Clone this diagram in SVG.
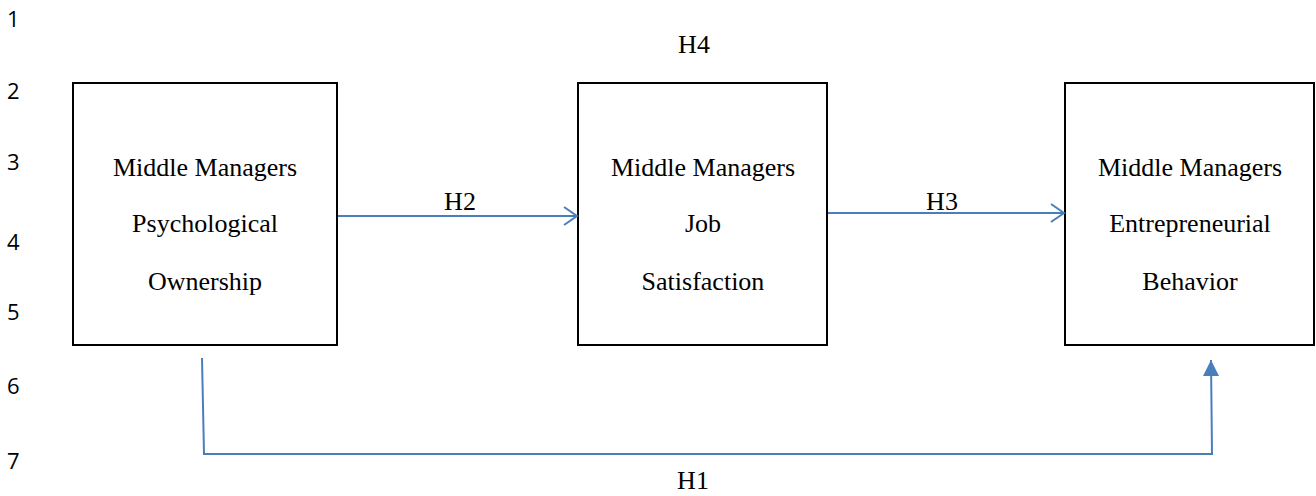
<svg xmlns="http://www.w3.org/2000/svg" width="1316" height="496" viewBox="0 0 1316 496">
<style>
.box{fill:#fff;stroke:#000;stroke-width:2}
.t{font-family:"Liberation Serif",serif;font-size:26px;fill:#000;text-anchor:middle}
.n{font-family:"Open Sans","Liberation Sans",sans-serif;font-size:22px;fill:#000}
.c{fill:none;stroke:#4a7ebb;stroke-width:2}
</style>
<defs>
<marker id="open" markerWidth="16" markerHeight="22" refX="14" refY="11" orient="auto" markerUnits="userSpaceOnUse">
<path d="M1,2 L14,11 L1,20" fill="none" stroke="#4a7ebb" stroke-width="2"/>
</marker>
<marker id="tri" markerWidth="16" markerHeight="18" refX="8" refY="0" orient="0" markerUnits="userSpaceOnUse">
<path d="M0,16 L8,0 L16,16 Z" fill="#4a7ebb"/>
</marker>
</defs>
<g id="linenumbers">
<text class="n" x="7" y="27">1</text>
<text class="n" x="7" y="99">2</text>
<text class="n" x="7" y="170">3</text>
<text class="n" x="7" y="250">4</text>
<text class="n" x="7" y="320">5</text>
<text class="n" x="7" y="394">6</text>
<text class="n" x="7" y="469">7</text>
</g>
<g id="node-pso">
<rect class="box" x="73" y="83" width="264" height="262"/>
<text class="t" x="205" y="176">Middle Managers</text>
<text class="t" x="205" y="232">Psychological</text>
<text class="t" x="205" y="290">Ownership</text>
</g>
<g id="node-js">
<rect class="box" x="578" y="83" width="249" height="262"/>
<text class="t" x="703" y="176">Middle Managers</text>
<text class="t" x="703" y="232">Job</text>
<text class="t" x="703" y="290">Satisfaction</text>
</g>
<g id="node-eb">
<rect class="box" x="1065" y="83" width="249" height="262"/>
<text class="t" x="1190" y="176">Middle Managers</text>
<text class="t" x="1190" y="232">Entrepreneurial</text>
<text class="t" x="1190" y="290">Behavior</text>
</g>
<g id="connectors">
<line class="c" x1="338" y1="216" x2="577" y2="216" marker-end="url(#open)"/>
<line class="c" x1="828" y1="213" x2="1064" y2="213" marker-end="url(#open)"/>
<path class="c" d="M202,358 L204,454 L1212,454 L1211,360" marker-end="url(#tri)"/>
</g>
<g id="labels">
<text class="t" x="460" y="210">H2</text>
<text class="t" x="942" y="210">H3</text>
<text class="t" x="694" y="53">H4</text>
<text class="t" x="693" y="489">H1</text>
</g>
</svg>
